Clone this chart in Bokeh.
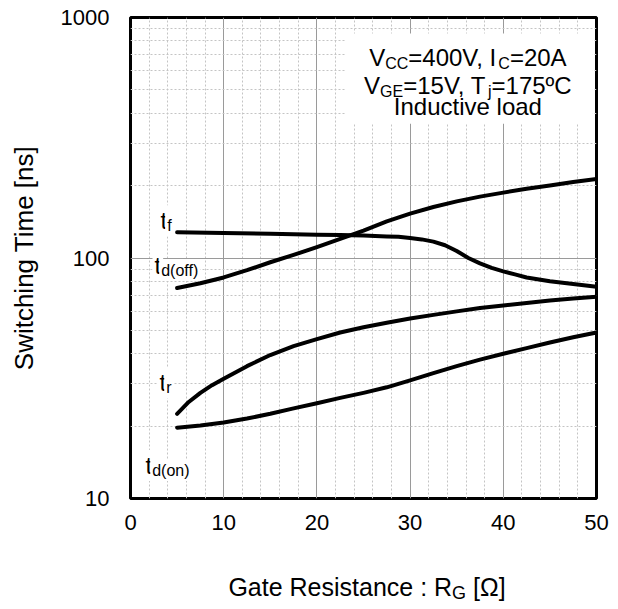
from bokeh.plotting import figure
from bokeh.layouts import column
from bokeh.models import Range1d, FixedTicker, NumeralTickFormatter, Label, BoxAnnotation
from bokeh.embed import file_html
from bokeh.resources import INLINE

# ---- data ----
rg = [5, 7.5, 10, 12.5, 15, 17.5, 20, 22.5, 25, 27.5, 30, 32.5, 35, 37.5, 40, 42.5, 45, 47.5, 50]
t_d_off = [75, 78.5, 83, 89, 96, 103, 111, 120, 130, 142, 153, 163, 172, 180, 187, 194, 200, 207, 213]
t_d_on = [19.7, 20.1, 20.7, 21.5, 22.5, 23.7, 24.9, 26.2, 27.5, 29, 31, 33.2, 35.5, 37.8, 40, 42.2, 44.5, 46.8, 49]

rg_f = [5, 10, 15, 20, 22.5, 25, 27.5, 28.75, 30, 31.25, 32.5, 33.75, 35, 36.25, 37.5, 38.75, 40, 41.25, 42.5, 45, 47.5, 50]
t_f = [128, 127, 126, 125, 124.5, 124, 123, 122.5, 121, 119.5, 117, 113, 107, 100, 95, 91, 88, 85.5, 83, 80, 78, 76]

rg_r = [5, 6.25, 7.5, 8.75, 10, 12.5, 15, 17.5, 20, 22.5, 25, 27.5, 30, 32.5, 35, 37.5, 40, 42.5, 45, 47.5, 50]
t_r = [22.5, 25.2, 27.5, 29.6, 31.5, 35.5, 39.5, 43, 46, 49, 51.5, 53.8, 56, 58, 60, 62, 63.5, 65, 66.5, 67.8, 69]

x_ticks = [0, 10, 20, 30, 40, 50]
x_minor = [v for v in range(2, 50, 2) if v % 10]
y_ticks = [10, 100, 1000]
y_minor = [20, 30, 40, 50, 60, 70, 80, 90, 200, 300, 400, 500, 600, 700, 800, 900]

FONT = "Liberation Sans"

# Arial / Liberation Sans advance widths (per em)
W = {' ': .278, '=': .584, ',': .278, ':': .278, '[': .278, ']': .278, '(': .333, ')': .333,
     'º': .365, 'Ω': .768, 'A': .667, 'C': .722, 'E': .667, 'G': .778, 'I': .278, 'R': .722,
     'S': .667, 'T': .611, 'V': .667, 'a': .556, 'c': .5, 'd': .556, 'e': .556, 'f': .278,
     'g': .556, 'h': .556, 'i': .222, 'j': .222, 'l': .222, 'm': .833, 'n': .556, 'o': .556,
     'r': .333, 's': .5, 't': .278, 'u': .556, 'v': .5, 'w': .722}


def text_width(s, size):
    return sum(W.get(ch, .556) for ch in s) * size


p = figure(width=618, height=560, x_range=Range1d(0, 50), y_range=Range1d(10, 1000),
           y_axis_type="log", output_backend="svg", toolbar_location=None,
           min_border_left=130, min_border_right=22, min_border_top=17, min_border_bottom=62)
p.background_fill_color = "white"
p.border_fill_color = "white"
p.outline_line_color = "black"
p.outline_line_width = 3

xt = FixedTicker(ticks=x_ticks, minor_ticks=x_minor)
yt = FixedTicker(ticks=y_ticks, minor_ticks=y_minor)
p.xaxis.ticker = xt
p.yaxis.ticker = yt
p.xgrid.ticker = xt
p.ygrid.ticker = yt
p.yaxis.formatter = NumeralTickFormatter(format="0")

for g in (p.xgrid, p.ygrid):
    g.grid_line_color = "#9a9a9a"
    g.grid_line_width = 1
    g.minor_grid_line_color = "#c4c4c4"
    g.minor_grid_line_width = 1
    g.minor_grid_line_dash = "2 2"

for ax in (p.xaxis, p.yaxis):
    ax.axis_line_color = None
    ax.major_tick_in = 0
    ax.major_tick_out = 0
    ax.minor_tick_in = 0
    ax.minor_tick_out = 0
    ax.major_label_text_font = FONT
    ax.major_label_text_font_size = "22px"
    ax.major_label_text_color = "black"

p.xaxis.major_label_standoff = 16
p.yaxis.major_label_standoff = 21
p.yaxis.axis_label = "Switching Time [ns]"
p.yaxis.axis_label_text_font = FONT
p.yaxis.axis_label_text_font_size = "26px"
p.yaxis.axis_label_text_font_style = "normal"
p.yaxis.axis_label_text_color = "black"
p.yaxis.axis_label_standoff = 19

# curves
for xs, ys in ((rg, t_d_off), (rg_f, t_f), (rg_r, t_r), (rg, t_d_on)):
    p.line(xs, ys, line_color="black", line_width=4, line_cap="round", line_join="round")

# white box behind the conditions text
p.add_layout(BoxAnnotation(left=23.1, right=49.6, bottom=362, top=857,
                           fill_color="white", fill_alpha=1, line_color=None))


def add_pieces(fig, x, y, pieces, base_dy, center=True, bg=False):
    total = sum(text_width(t, s) for t, s, _ in pieces)
    cur = -total / 2 if center else 0
    for t, s, dy in pieces:
        lead = len(t) - len(t.lstrip())
        lab = Label(x=x, y=y, x_units="data", y_units="data", text=t.strip(),
                    x_offset=cur + text_width(t[:lead], s), y_offset=base_dy - dy,
                    text_font=FONT, text_font_size=f"{s}px", text_color="black",
                    text_align="left", text_baseline="alphabetic")
        if bg:
            lab.background_fill_color = "white"
            lab.padding = 2
        fig.add_layout(lab)
        cur += text_width(t, s)


MAIN, SUB = 24, 16
# conditions text (anchored at top of frame)
add_pieces(p, 36.2, 1000, [("V", MAIN, 0), ("CC", SUB, 6), ("=400V, I", MAIN, 0), ("C", SUB, 6), ("=20A", MAIN, 0)], -40)
add_pieces(p, 36.2, 1000, [("V", MAIN, 0), ("GE", SUB, 6), ("=15V, T", MAIN, 0), ("j", SUB, 6), ("=175ºC", MAIN, 0)], -68)
add_pieces(p, 36.2, 1000, [("Inductive load", MAIN, 0)], -89)

# curve labels
add_pieces(p, 3.0, 143, [("t", MAIN, 0), ("f", SUB, 5)], 0, center=False, bg=True)
add_pieces(p, 2.36, 93.1, [("t", MAIN, 0), ("d(off)", SUB, 5)], 0, center=False, bg=True)
add_pieces(p, 2.9, 30.3, [("t", MAIN, 0), ("r", SUB, 5)], 0, center=False, bg=True)
add_pieces(p, 1.4, 13.7, [("t", MAIN, 0), ("d(on)", SUB, 5)], 0, center=False, bg=True)

# x axis title strip below the chart
q = figure(width=618, height=49, x_range=Range1d(0, 618), y_range=Range1d(0, 49),
           output_backend="svg", toolbar_location=None,
           x_axis_location=None, y_axis_location=None,
           min_border_left=0, min_border_right=0, min_border_top=0, min_border_bottom=0)
q.outline_line_color = None
q.grid.visible = False
q.background_fill_color = "white"
q.border_fill_color = "white"
add_pieces(q, 314, 23, [("Gate Resistance : R", 25, 0), ("G", 18, 6), (" [Ω]", 25, 0)], 0)

layout = column(p, q, spacing=0)
open("out.html", "w").write(file_html(layout, INLINE))
